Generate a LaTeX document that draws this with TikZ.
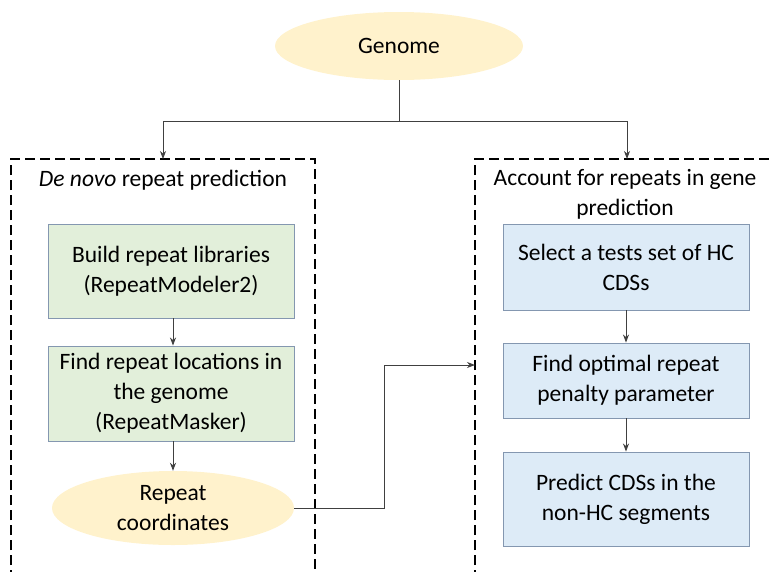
\documentclass[tikz,border=0pt]{standalone}
\usepackage{fontspec}
\setmainfont{Carlito}
\usetikzlibrary{arrows.meta,shapes.geometric}
\definecolor{stepgreen}{HTML}{E2EFDA}
\definecolor{stepblue}{HTML}{DDEBF7}
\definecolor{stepedge}{HTML}{8497B0}
\definecolor{ovalfill}{HTML}{FFF2CC}
\definecolor{linkgray}{HTML}{404040}
\tikzset{
  every node/.style={font=\fontsize{23.5}{30}\selectfont, align=center, inner sep=0pt},
  greenbox/.style={draw=stepedge, line width=0.9pt, fill=stepgreen, minimum width=246pt},
  bluebox/.style={draw=stepedge, line width=0.9pt, fill=stepblue, minimum width=246pt},
  oval/.style={ellipse, fill=ovalfill},
  link/.style={draw=linkgray, line width=0.9pt, -{Stealth[length=8pt,width=6pt,inset=2.5pt]}},
  frame/.style={draw=black, line width=2pt, dash pattern=on 10pt off 5pt}
}
\begin{document}
\begin{tikzpicture}[x=1pt,y=-1pt]
\useasboundingbox (0,0) rectangle (769,571);

% dashed group frames, open at the page edges
\begin{scope}
\clip (0,0) rectangle (769,571);
\draw[frame] (11,580) -- (11,159) -- (315,159) -- (315,580);
\draw[frame] (475,580) -- (475,159) -- (780,159);
\end{scope}

% input
\node[oval, minimum width=248pt, minimum height=68pt] (genome) at (399,46) {Genome};

% group titles
\node (lefttitle) at (163,180) {\textit{De novo} repeat prediction};
\node (righttitle) at (625,194) {Account for repeats in gene\\prediction};
\coordinate (lefttop) at (163,159);
\coordinate (righttop) at (627,159);
\coordinate (rightside) at (475,365);

% left column
\node[greenbox, minimum height=94pt] (build) at (171,271) {Build repeat libraries\\(RepeatModeler2)};
\node[greenbox, minimum height=95pt] (find) at (171,393.5) {Find repeat locations in\\the genome\\(RepeatMasker)};
\node[oval, minimum width=242pt, minimum height=74pt] (coords) at (173,508) {Repeat\\coordinates};

% right column
\node[bluebox, minimum height=86pt] (select) at (626,267) {Select a tests set of HC\\CDSs};
\node[bluebox, minimum height=75pt] (optimal) at (626,380.5) {Find optimal repeat\\penalty parameter};
\node[bluebox, minimum height=94pt] (predict) at (626,499) {Predict CDSs in the\\non-HC segments};

% connectors
\draw[draw=linkgray, line width=0.9pt] (genome.south) -- (399,121);
\draw[link] (399,121) -| (lefttop);
\draw[link] (399,121) -| (righttop);
\draw[link] (build.south -| 173,0) -- (find.north -| 173,0);
\draw[link] (find.south -| 173,0) -- (coords.north);
\draw[link] (coords.east) -- (384,508) |- (rightside);
\draw[link] (select) -- (optimal);
\draw[link] (optimal) -- (predict);
\end{tikzpicture}
\end{document}
